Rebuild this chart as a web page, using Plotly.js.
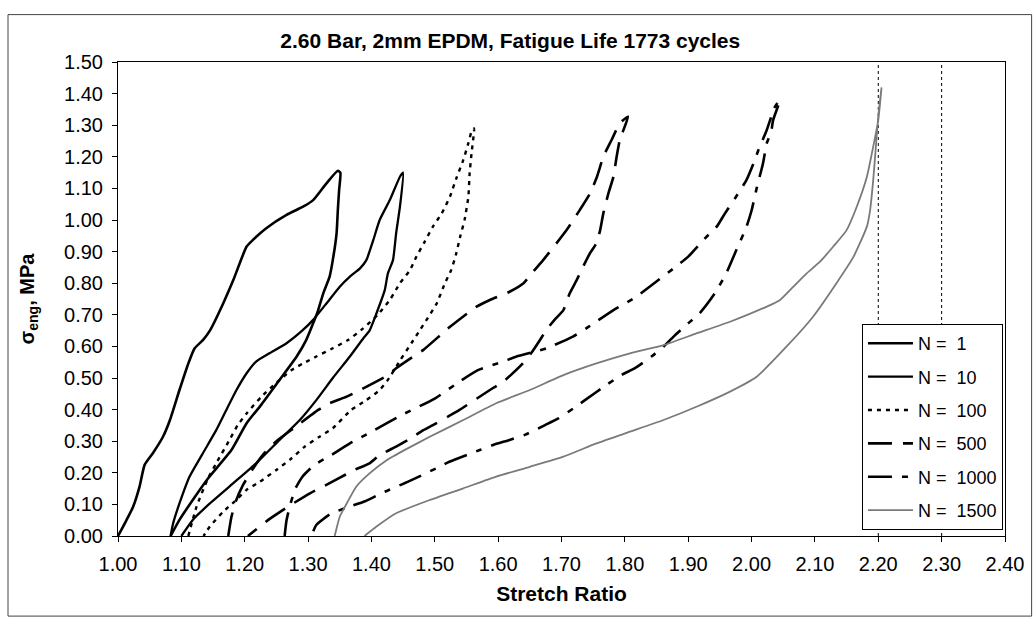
<!DOCTYPE html>
<html>
<head>
<meta charset="utf-8">
<script src="https://cdn.plot.ly/plotly-3.0.1.min.js"></script>
<style>html,body{margin:0;padding:0;background:#fff;}#chart{width:1033px;height:620px;}</style>
</head>
<body>
<div id="chart"></div>
<script>
const legendNames = ["N =\u00a0\u00a01", "N =\u00a0\u00a010", "N =\u00a0\u00a0100", "N =\u00a0\u00a0500", "N =\u00a0\u00a01000", "N =\u00a0\u00a01500"];
const xTickVals = [1.0,1.1,1.2,1.3,1.4,1.5,1.6,1.7,1.8,1.9,2.0,2.1,2.2,2.3,2.4];
const refLinesX = [2.2, 2.3];

// N = 1
const n1LoadX = [1.000,1.012,1.024,1.034,1.042,1.055,1.071,1.082,1.097,1.111,1.121,1.134,1.145,1.166,1.182,1.203,1.213,1.234,1.266,1.292,1.308,1.329,1.347];
const n1LoadY = [0.000,0.045,0.093,0.156,0.225,0.262,0.314,0.367,0.462,0.546,0.594,0.620,0.650,0.736,0.810,0.916,0.937,0.974,1.016,1.042,1.063,1.116,1.156];
const n1UnloadX = [1.351,1.349,1.347,1.345,1.339,1.334,1.324,1.316,1.308,1.297,1.282,1.255,1.226,1.203,1.179,1.142,1.118,1.097,1.083];
const n1UnloadY = [1.150,1.095,1.032,0.958,0.873,0.821,0.768,0.715,0.673,0.620,0.568,0.494,0.415,0.357,0.272,0.182,0.114,0.051,0.000];
// N = 10
const n10LoadX = [1.083,1.087,1.097,1.113,1.134,1.155,1.171,1.187,1.203,1.218,1.239,1.266,1.292,1.308,1.329,1.350,1.366,1.382,1.392,1.403,1.413,1.429,1.445];
const n10LoadY = [0.000,0.040,0.103,0.188,0.262,0.335,0.399,0.462,0.515,0.552,0.578,0.610,0.652,0.684,0.736,0.789,0.821,0.847,0.873,0.937,1.000,1.063,1.137];
const n10UnloadX = [1.450,1.445,1.439,1.434,1.426,1.421,1.408,1.397,1.387,1.366,1.339,1.313,1.287,1.255,1.218,1.182,1.145,1.118,1.100];
const n10UnloadY = [1.150,1.042,0.958,0.873,0.831,0.778,0.705,0.650,0.625,0.568,0.500,0.430,0.367,0.304,0.230,0.167,0.103,0.051,0.000];
// N = 100
const n100LoadX = [1.111,1.124,1.142,1.155,1.176,1.189,1.203,1.226,1.255,1.274,1.292,1.313,1.339,1.363,1.387,1.410,1.430,1.445,1.461,1.471,1.484,1.497,1.511,1.524,1.534,1.545,1.553,1.558];
const n100LoadY = [0.000,0.093,0.182,0.230,0.304,0.351,0.388,0.440,0.494,0.525,0.546,0.568,0.594,0.620,0.657,0.700,0.750,0.800,0.842,0.884,0.931,0.979,1.021,1.074,1.132,1.190,1.243,1.280];
const n100UnloadX = [1.562,1.558,1.555,1.553,1.547,1.540,1.534,1.526,1.516,1.503,1.489,1.476,1.463,1.445,1.426,1.413,1.392,1.368,1.339,1.318,1.295,1.274,1.250,1.224,1.203,1.184,1.166,1.145,1.135];
const n100UnloadY = [1.290,1.211,1.148,1.074,1.000,0.947,0.895,0.842,0.800,0.736,0.690,0.650,0.610,0.555,0.494,0.462,0.430,0.399,0.341,0.314,0.283,0.246,0.209,0.172,0.146,0.109,0.077,0.030,0.000];
// N = 500
const n500LoadX = [1.174,1.179,1.186,1.197,1.212,1.230,1.250,1.280,1.316,1.334,1.361,1.382,1.426,1.439,1.466,1.482,1.524,1.566,1.587,1.618,1.640,1.655,1.671,1.692,1.708,1.729,1.745,1.756,1.766,1.779,1.792];
const n500LoadY = [0.000,0.060,0.110,0.160,0.210,0.260,0.300,0.345,0.399,0.420,0.441,0.462,0.509,0.531,0.568,0.589,0.662,0.726,0.747,0.773,0.800,0.836,0.873,0.926,0.968,1.032,1.084,1.137,1.200,1.253,1.306];
const n500UnloadX = [1.805,1.792,1.787,1.782,1.774,1.766,1.761,1.755,1.745,1.734,1.724,1.713,1.703,1.689,1.676,1.666,1.652,1.639,1.608,1.587,1.539,1.521,1.497,1.482,1.458,1.439,1.413,1.397,1.373,1.358,1.334,1.303,1.270,1.240,1.205];
const n500UnloadY = [1.327,1.253,1.200,1.137,1.084,1.021,0.968,0.926,0.895,0.852,0.810,0.768,0.715,0.684,0.652,0.620,0.578,0.546,0.488,0.462,0.399,0.378,0.351,0.335,0.304,0.283,0.256,0.230,0.209,0.193,0.167,0.135,0.095,0.055,0.000];
// N = 1000
const n1000LoadX = [1.263,1.266,1.272,1.280,1.292,1.310,1.334,1.366,1.400,1.450,1.500,1.540,1.568,1.608,1.629,1.676,1.718,1.739,1.782,1.818,1.839,1.877,1.900,1.929,1.945,1.958,1.974,1.992,2.003,2.011,2.024,2.037];
const n1000LoadY = [0.000,0.050,0.100,0.150,0.190,0.225,0.253,0.293,0.330,0.385,0.435,0.490,0.525,0.552,0.568,0.594,0.631,0.657,0.715,0.757,0.789,0.847,0.884,0.947,0.979,1.021,1.069,1.127,1.179,1.222,1.285,1.359];
const n1000UnloadX = [2.045,2.034,2.031,2.024,2.018,2.008,2.000,1.992,1.976,1.960,1.942,1.918,1.900,1.877,1.861,1.842,1.816,1.795,1.771,1.737,1.719,1.695,1.674,1.642,1.618,1.592,1.571,1.523,1.502,1.458,1.421,1.390,1.358,1.334,1.313,1.305];
const n1000UnloadY = [1.380,1.316,1.280,1.243,1.179,1.100,1.030,0.979,0.905,0.831,0.768,0.705,0.673,0.631,0.599,0.568,0.531,0.510,0.478,0.430,0.404,0.372,0.351,0.320,0.304,0.288,0.272,0.235,0.214,0.172,0.140,0.110,0.088,0.068,0.035,0.000];
// N = 1500
const n1500LoadX = [1.342,1.350,1.361,1.376,1.397,1.424,1.455,1.492,1.545,1.597,1.650,1.703,1.755,1.808,1.861,1.913,1.966,2.024,2.045,2.066,2.087,2.108,2.129,2.150,2.166,2.182,2.192,2.200];
const n1500LoadY = [0.000,0.061,0.103,0.156,0.198,0.240,0.275,0.314,0.367,0.420,0.462,0.509,0.546,0.578,0.604,0.641,0.678,0.726,0.747,0.789,0.831,0.868,0.916,0.968,1.042,1.137,1.232,1.316];
const n1500UnloadX = [2.205,2.200,2.197,2.192,2.187,2.182,2.161,2.134,2.097,2.055,2.008,1.966,1.913,1.861,1.808,1.755,1.703,1.650,1.597,1.545,1.492,1.439,1.408,1.389];
const n1500UnloadY = [1.417,1.330,1.253,1.126,1.030,0.979,0.884,0.800,0.694,0.599,0.504,0.457,0.409,0.367,0.330,0.293,0.251,0.219,0.188,0.151,0.114,0.072,0.030,0.000];

const loops = [
  [n1LoadX, n1LoadY, n1UnloadX, n1UnloadY],
  [n10LoadX, n10LoadY, n10UnloadX, n10UnloadY],
  [n100LoadX, n100LoadY, n100UnloadX, n100UnloadY],
  [n500LoadX, n500LoadY, n500UnloadX, n500UnloadY],
  [n1000LoadX, n1000LoadY, n1000UnloadX, n1000UnloadY],
  [n1500LoadX, n1500LoadY, n1500UnloadX, n1500UnloadY]
];
const styles = [
  {color:'#000', width:2.6, dash:'solid'},
  {color:'#000', width:2.3, dash:'solid'},
  {color:'#000', width:2.4, dash:'4px,5px'},
  {color:'#000', width:2.6, dash:'24px,11px'},
  {color:'#000', width:2.6, dash:'24px,10px,6px,10px'},
  {color:'#7a7a7a', width:1.8, dash:'solid'}
];

const traces = loops.map((l, i) => ({
  type:'scatter', mode:'lines', name: legendNames[i], legendgroup:'g'+i,
  x: l[0].concat(l[2]), y: l[1].concat(l[3]),
  line: Object.assign({shape:'spline', smoothing:0.5}, styles[i]),
  hoverinfo:'skip'
}));

const FONT = 'Liberation Sans, Arial, sans-serif';
const shapes = refLinesX.map(v => ({
  type:'line', xref:'x', yref:'y', x0:v, x1:v, y0:0, y1:1.5,
  line:{color:'#000', width:1, dash:'3px,3px'}, layer:'below'
}));
shapes.push({type:'rect', xref:'paper', yref:'paper', x0:-0.124, x1:1.03, y0:-0.169, y1:1.1, line:{color:'#444', width:1}});

const layout = {
  width:1033, height:620,
  margin:{l:118, r:28, t:62, b:84},
  paper_bgcolor:'#fff', plot_bgcolor:'#fff',
  font:{family:FONT, color:'#000', size:20},
  title:{text:'<b>2.60 Bar, 2mm EPDM, Fatigue Life 1773 cycles</b>', font:{family:FONT, size:21, color:'#000'}, x:0.494, xref:'container', xanchor:'center', y:0.935, yref:'container', yanchor:'middle'},
  showlegend:true,
  legend:{x:0.9977, xanchor:'right', y:0.0127, yanchor:'bottom', bgcolor:'#fff', bordercolor:'#000', borderwidth:1,
    font:{family:FONT, size:18, color:'#000'}, tracegroupgap:7, itemwidth:45},
  xaxis:{range:[1.0, 2.4], tickvals:xTickVals, tickformat:'.2f', showgrid:false, zeroline:false,
    showline:true, linecolor:'#000', linewidth:1, mirror:true, ticks:'outside', ticklen:5, tickcolor:'#000',
    tickfont:{family:FONT, size:20}, ticklabelstandoff:5,
    title:{text:'<b>Stretch Ratio</b>', font:{family:FONT, size:21}, standoff:12}},
  yaxis:{range:[0, 1.5], dtick:0.1, tick0:0, tickformat:'.2f', showgrid:false, zeroline:false,
    showline:true, linecolor:'#000', linewidth:1, mirror:true, ticks:'outside', ticklen:5, tickcolor:'#000',
    tickfont:{family:FONT, size:20}, ticklabelstandoff:5,
    title:{text:'<b>σ<sub>eng</sub>, MPa</b>', font:{family:FONT, size:20}, standoff:24}},
  shapes: shapes
};

Plotly.newPlot('chart', traces, layout, {staticPlot:true, displayModeBar:false});
</script>
</body>
</html>
